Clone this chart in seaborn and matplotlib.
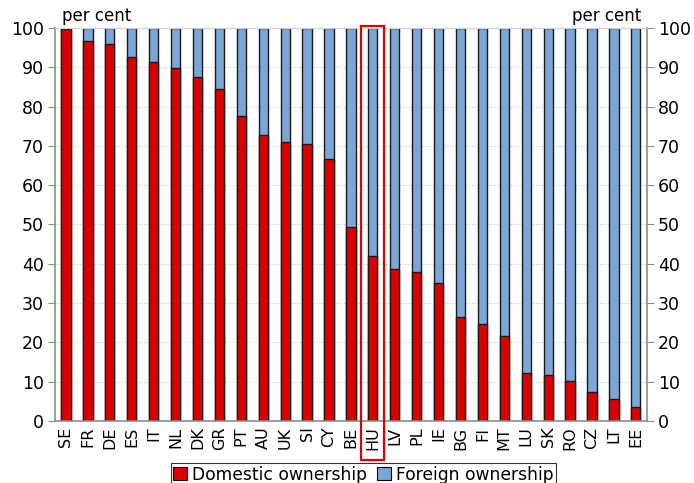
import numpy as np
import pandas as pd
import seaborn as sns
import matplotlib.pyplot as plt
from matplotlib.patches import Rectangle, Patch
import matplotlib.transforms as mtransforms

countries = ["SE", "FR", "DE", "ES", "IT", "NL", "DK", "GR", "PT", "AU", "UK", "SI", "CY", "BE",
             "HU", "LV", "PL", "IE", "BG", "FI", "MT", "LU", "SK", "RO", "CZ", "LT", "EE"]
domestic = [99.7, 96.7, 95.9, 92.6, 91.3, 89.8, 87.6, 84.6, 77.5, 72.8, 71.1, 70.4, 66.6, 49.4,
            41.9, 38.6, 38.0, 35.2, 26.4, 24.7, 21.5, 12.1, 11.6, 10.1, 7.3, 5.5, 3.6]
total = [100] * len(countries)
highlight = "HU"

red = "#DC0000"
blue = "#7BA6D7"

df = pd.DataFrame({"country": countries, "domestic": domestic, "total": total})

sns.set_style("white")
plt.rcParams["font.family"] = ["DejaVu Sans"]
plt.rcParams["text.color"] = "black"
plt.rcParams["xtick.labelcolor"] = "black"
plt.rcParams["ytick.labelcolor"] = "black"

fig = plt.figure(figsize=(6.94, 4.83), dpi=100)
ax = fig.add_axes([0.0793, 0.1284, 0.8527, 0.8136])

sns.barplot(data=df, x="country", y="total", color=blue, width=0.42,
            edgecolor="#1a1a1a", linewidth=1.0, ax=ax, saturation=1)
sns.barplot(data=df, x="country", y="domestic", color=red, width=0.42,
            edgecolor="#1a1a1a", linewidth=1.0, ax=ax, saturation=1)

ax.set_xlim(-0.5, len(countries) - 0.5)
ax.set_ylim(0, 100)
ax.set_yticks(range(0, 101, 10))
ax.set_xlabel("")
ax.set_ylabel("")
ax.yaxis.grid(True, linestyle=(0, (1, 1.5)), color="#c8c8c8", linewidth=0.8)
ax.set_axisbelow(True)

for s in ["left", "right", "bottom"]:
    ax.spines[s].set_color("#8c8c8c")
    ax.spines[s].set_linewidth(1.2)
ax.spines["top"].set_color("#d0d0d0")
ax.spines["top"].set_linewidth(0.8)

ax.tick_params(axis="y", which="major", direction="out", length=5, color="#8c8c8c",
               labelsize=12.5, pad=3)
ax.tick_params(axis="x", which="major", length=0, labelsize=11.5, rotation=90, pad=4)
ax.set_xticks(np.arange(-0.5, len(countries), 1), minor=True)
ax.tick_params(axis="x", which="minor", direction="out", length=5, color="#8c8c8c")

ax2 = ax.twinx()
ax2.set_ylim(0, 100)
ax2.set_yticks(range(0, 101, 10))
ax2.tick_params(axis="y", direction="out", length=5, color="#8c8c8c", labelsize=12.5, pad=3)
for s in ax2.spines.values():
    s.set_visible(False)

ax.text(0.012, 1.008, "per cent", transform=ax.transAxes, fontsize=12, ha="left", va="bottom")
ax.text(0.99, 1.008, "per cent", transform=ax.transAxes, fontsize=12, ha="right", va="bottom")

idx = countries.index(highlight)
trans = mtransforms.blended_transform_factory(ax.transData, ax.transAxes)
ax.add_patch(Rectangle((idx - 0.53, -0.099), 1.06, 1.104, transform=trans, fill=False,
                       edgecolor="#E00000", linewidth=1.6, clip_on=False, zorder=5))

handles = [Patch(facecolor=red, edgecolor="black", linewidth=0.8, label="Domestic ownership"),
           Patch(facecolor=blue, edgecolor="black", linewidth=0.8, label="Foreign ownership")]
leg = fig.legend(handles=handles, loc="upper center", bbox_to_anchor=(0.524, 0.041), ncol=2,
                 frameon=True, fancybox=False, fontsize=12.3, handlelength=0.8, handleheight=0.8,
                 handletextpad=0.3, columnspacing=0.6, borderpad=0.15, borderaxespad=0)
leg.get_frame().set_edgecolor("black")
leg.get_frame().set_linewidth(0.8)

fig.savefig("out.png", dpi=100)
